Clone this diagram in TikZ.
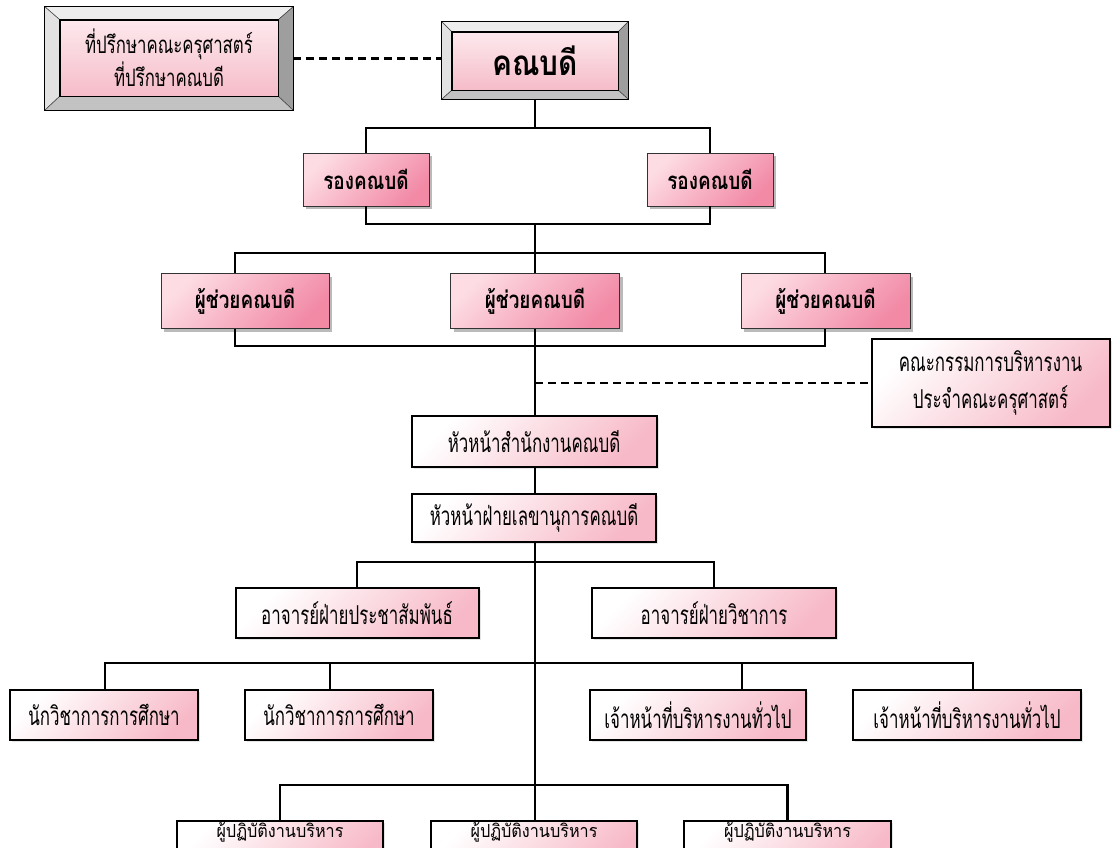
\documentclass[tikz,border=0pt]{standalone}
\usepackage{fontspec}
\newfontfamily\thaiN[Script=Thai,FakeStretch=0.65]{Loma}
\newfontfamily\thaiB[Script=Thai,FakeStretch=0.79]{Loma}
\newfontfamily\thaiD[Script=Thai,FakeStretch=0.85]{Loma}
\newfontfamily\thaiA[Script=Thai,FakeStretch=0.7]{Loma}
\newfontfamily\thaiF[Script=Thai,FakeStretch=0.9]{Loma}
\usetikzlibrary{shadows}
\definecolor{pkA}{HTML}{FDDCE4}
\definecolor{pkB}{HTML}{F28AA6}
\definecolor{lwA}{HTML}{FFFFFF}
\definecolor{lwB}{HTML}{F7B9C7}
\definecolor{fcA}{HTML}{FDE9EE}
\definecolor{fcB}{HTML}{F5BCC8}
\definecolor{bvT}{HTML}{EDEDED}
\definecolor{bvL}{HTML}{E2E2E2}
\definecolor{bvR}{HTML}{9E9E9E}
\definecolor{bvB}{HTML}{C2C2C2}
\begin{document}
\begin{tikzpicture}[x=1pt,y=-1pt,
  conn/.style={line width=2.4pt,black},
  dconn/.style={conn,dash pattern=on 8pt off 5pt},
  bevout/.style={draw=black,line width=0.8pt,inner sep=0pt},
  face/.style={draw=black,line width=0.8pt,top color=fcA,bottom color=fcB,inner sep=0pt,align=center},
  bev/.style={draw=black!75,line width=0.5pt},
  upbox/.style={draw=black!80,line width=0.9pt,top color=pkA,bottom color=pkB,shading angle=45,
     drop shadow={shadow xshift=3pt,shadow yshift=-3pt,fill=black!45,opacity=0.6},
     inner sep=0pt,font=\thaiB\bfseries\fontsize{24pt}{28pt}\selectfont},
  lowbox/.style={draw=black,line width=2pt,top color=lwA,bottom color=lwB,shading angle=45,
     drop shadow={shadow xshift=2pt,shadow yshift=-2pt,fill=black!20,opacity=0.5},
     inner sep=0pt,align=center,font=\thaiN\fontsize{26pt}{37pt}\selectfont},
  lowtext/.style={inner sep=0pt,anchor=base,font=\thaiF\fontsize{18pt}{22pt}\selectfont}
]
\useasboundingbox (0,0) rectangle (1113,847);
\clip (0,0) rectangle (1113,847);

% advisor bevel box
\node[bevout,minimum width=248pt,minimum height=103pt] (advo) at (169,58.5) {};
\node[face,minimum width=218pt,minimum height=76pt,font=\thaiA\fontsize{24pt}{33pt}\selectfont] (advi) at (169,58) {ที่ปรึกษาคณะครุศาสตร์\\ที่ปรึกษาคณบดี};
\fill[bvT,bev] (advo.north west) -- (advo.north east) -- (advi.north east) -- (advi.north west) -- cycle;
\fill[bvL,bev] (advo.north west) -- (advi.north west) -- (advi.south west) -- (advo.south west) -- cycle;
\fill[bvR,bev] (advo.north east) -- (advi.north east) -- (advi.south east) -- (advo.south east) -- cycle;
\fill[bvB,bev] (advo.south west) -- (advi.south west) -- (advi.south east) -- (advo.south east) -- cycle;
\draw[line width=0.8pt] (advo.north west) rectangle (advo.south east);
\draw[line width=0.8pt] (advi.north west) rectangle (advi.south east);

% dean bevel box
\node[bevout,minimum width=186pt,minimum height=77pt] (deano) at (535,60.5) {};
\node[face,minimum width=166pt,minimum height=58pt,font=\thaiD\bfseries\fontsize{35pt}{40pt}\selectfont] (deani) at (535,61) {คณบดี};
\fill[bvT,bev] (deano.north west) -- (deano.north east) -- (deani.north east) -- (deani.north west) -- cycle;
\fill[bvL,bev] (deano.north west) -- (deani.north west) -- (deani.south west) -- (deano.south west) -- cycle;
\fill[bvR,bev] (deano.north east) -- (deani.north east) -- (deani.south east) -- (deano.south east) -- cycle;
\fill[bvB,bev] (deano.south west) -- (deani.south west) -- (deani.south east) -- (deano.south east) -- cycle;
\draw[line width=0.8pt] (deano.north west) rectangle (deano.south east);
\draw[line width=0.8pt] (deani.north west) rectangle (deani.south east);

\draw[dconn] (advo.east) -- (advo.east -| deano.west);

% vice deans
\node[upbox,minimum width=126pt,minimum height=53pt] (v1) at (366,179.5) {รองคณบดี};
\node[upbox,minimum width=126pt,minimum height=53pt] (v2) at (710,179.5) {รองคณบดี};
\coordinate (j1) at (535,128);
\draw[conn] (deano.south) -- (j1);
\draw[conn] (v1.north) |- (j1) -| (v2.north);
\coordinate (j2) at (535,224);
\draw[conn] (v1.south) |- (j2) -| (v2.south);

% assistants
\node[upbox,minimum width=168pt,minimum height=55pt] (a1) at (245,301) {ผู้ช่วยคณบดี};
\node[upbox,minimum width=169pt,minimum height=55pt] (a2) at (535,301) {ผู้ช่วยคณบดี};
\node[upbox,minimum width=169pt,minimum height=55pt] (a3) at (825.5,301) {ผู้ช่วยคณบดี};
\coordinate (b1) at (235,253);
\coordinate (b3) at (825,253);
\draw[conn] (j2) -- (a2.north);
\draw[conn] (b1 |- a1.north) -- (b1) -- (b3) -- (b3 |- a3.north);
\coordinate (c1) at (235,346);
\coordinate (c3) at (825,346);
\draw[conn] (c1 |- a1.south) -- (c1) -- (c3) -- (c3 |- a3.south);

% committee
\node[lowbox,minimum width=238pt,minimum height=88pt] (com) at (990.5,383) {คณะกรรมการบริหารงาน\\ประจำคณะครุศาสตร์};
\coordinate (d1) at (535,383);
\draw[dconn] (d1) -- (com.west);

% heads
\node[lowbox,minimum width=245pt,minimum height=51pt] (h1) at (534,441.5) {หัวหน้าสำนักงานคณบดี};
\node[lowbox,minimum width=244pt,minimum height=48pt] (h2) at (534,518) {หัวหน้าฝ่ายเลขานุการคณบดี};
\draw[conn] (a2.south) -- (a2.south |- h1.north);
\draw[conn] (h1.south -| a2.south) -- (h2.north -| a2.south);

% lecturers
\node[lowbox,minimum width=243pt,minimum height=50pt] (p1) at (357,613) {อาจารย์ฝ่ายประชาสัมพันธ์};
\node[lowbox,minimum width=244pt,minimum height=50pt] (p2) at (714,613) {อาจารย์ฝ่ายวิชาการ};
\coordinate (j3) at (535,562);
\draw[conn] (p1.north) |- (j3) -| (p2.north);

% officers
\node[lowbox,minimum width=188pt,minimum height=50pt] (e1) at (104,715) {นักวิชาการการศึกษา};
\node[lowbox,minimum width=188pt,minimum height=50pt] (e2) at (339,715) {นักวิชาการการศึกษา};
\node[lowbox,minimum width=216pt,minimum height=50pt] (e3) at (698,715) {เจ้าหน้าที่บริหารงานทั่วไป};
\node[lowbox,minimum width=228pt,minimum height=50pt] (e4) at (967,715) {เจ้าหน้าที่บริหารงานทั่วไป};
\coordinate (k1) at (105,663);
\coordinate (k2) at (330,663);
\coordinate (k3) at (742,663);
\coordinate (k4) at (973,663);
\draw[conn] (k1 |- e1.north) -- (k1) -- (k4) -- (k4 |- e4.north);
\draw[conn] (k2) -- (k2 |- e2.north);
\draw[conn] (k3) -- (k3 |- e3.north);

% operators (cut by the lower edge)
\node[lowbox,minimum width=206pt,minimum height=50pt] (f1) at (280,846) {};
\node[lowbox,minimum width=206pt,minimum height=50pt] (f2) at (534,846) {};
\node[lowbox,minimum width=207pt,minimum height=50pt] (f3) at (787.5,846) {};
\coordinate (j4) at (535,785);
\draw[conn] (h2.south -| a2.south) -- (f2.north -| a2.south);
\draw[conn] (f1.north) |- (j4) -| (f3.north);
\node[lowtext] (f1t) at ([yshift=-17pt]f1.north) {ผู้ปฏิบัติงานบริหาร};
\node[lowtext] (f2t) at ([yshift=-17pt]f2.north) {ผู้ปฏิบัติงานบริหาร};
\node[lowtext] (f3t) at ([yshift=-17pt]f3.north) {ผู้ปฏิบัติงานบริหาร};
\end{tikzpicture}
\end{document}
